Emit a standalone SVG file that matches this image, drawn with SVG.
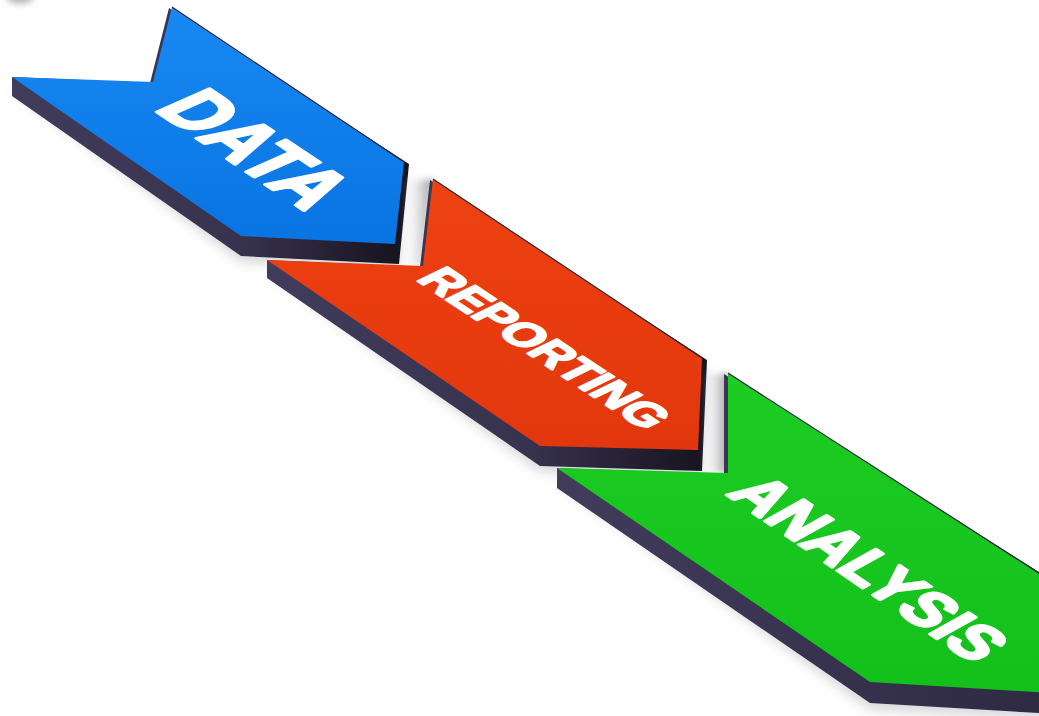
<svg xmlns="http://www.w3.org/2000/svg" width="1039" height="716" viewBox="0 0 1039 716">
<defs>
<style>
.lbl{font-family:"Liberation Sans",Arial,sans-serif;font-weight:700;fill:#ffffff;stroke:#ffffff;stroke-linejoin:round;}
.edge{fill:none;stroke:#2a2740;stroke-width:1.2;stroke-linejoin:round;}
</style>
<filter id="blur6" x="-20%" y="-20%" width="140%" height="140%"><feGaussianBlur stdDeviation="6"/></filter>
<filter id="blur3" x="-50%" y="-50%" width="200%" height="200%"><feGaussianBlur stdDeviation="3"/></filter>
<linearGradient id="gBlue" x1="0" y1="0" x2="0" y2="1"><stop offset="0" stop-color="#1989f2"/><stop offset="1" stop-color="#0874e2"/></linearGradient>
<linearGradient id="gRed" x1="0" y1="0" x2="0" y2="1"><stop offset="0" stop-color="#ee4211"/><stop offset="1" stop-color="#e2360e"/></linearGradient>
<linearGradient id="gGreen" x1="0" y1="0" x2="0" y2="1"><stop offset="0" stop-color="#1dcd23"/><stop offset="1" stop-color="#12c01a"/></linearGradient>
<linearGradient id="dBlue" gradientUnits="userSpaceOnUse" x1="12" y1="0" x2="400" y2="0"><stop offset="0" stop-color="#423c5c"/><stop offset="0.6" stop-color="#37324d"/><stop offset="1" stop-color="#17131f"/></linearGradient>
<linearGradient id="dRed" gradientUnits="userSpaceOnUse" x1="267" y1="0" x2="705" y2="0"><stop offset="0" stop-color="#423c5c"/><stop offset="0.6" stop-color="#37324d"/><stop offset="1" stop-color="#17131f"/></linearGradient>
<linearGradient id="dGreen" gradientUnits="userSpaceOnUse" x1="557" y1="0" x2="1050" y2="0"><stop offset="0" stop-color="#423c5c"/><stop offset="1" stop-color="#2e2a42"/></linearGradient>
<linearGradient id="gapShade" x1="0" y1="0" x2="1" y2="0"><stop offset="0" stop-color="#ffffff" stop-opacity="0"/><stop offset="1" stop-color="#7a7a80" stop-opacity="0.8"/></linearGradient>
</defs>
<rect x="0" y="0" width="1039" height="716" fill="#ffffff"/>
<ellipse cx="20" cy="-3" rx="14" ry="7" fill="#b8b8bc" filter="url(#blur3)"/>

<!-- soft drop shadows -->
<g opacity="0.22" fill="#505060" filter="url(#blur6)">
<polygon points="12,90 241,262 399,272 404,170 150,90"/>
<polygon points="267,272 540,472 702,478 707,368 420,275"/>
<polygon points="557,482 870,710 1055,720 1055,590 724,482"/>
</g>

<g id="node-data">
<polygon points="169,8 409,164 399,264 241,256 12,96 12,77 150,83" fill="url(#dBlue)"/>
<polygon points="172,7 404,162 395,244 241,236 12,77 153,82" fill="url(#gBlue)"/>
<polyline class="edge" points="172,7 404,162"/>
<text class="lbl" font-size="47" stroke-width="2.2" transform="matrix(2.31 1.55 -1.62 0.72 172 8) translate(36 63) scale(0.535 1)">DATA</text>
</g>

<polygon points="406,180 433,179 423,266 402,266" fill="url(#gapShade)" filter="url(#blur3)"/>

<g id="node-reporting">
<polygon points="430,180 707,360 702,471 540,466 267,278 267,260 420,267" fill="url(#dRed)"/>
<polygon points="433,179 702,358 698,450 540,446 267,260 423,266" fill="url(#gRed)"/>
<polyline class="edge" points="433,179 702,358"/>
<text class="lbl" font-size="25.7" stroke-width="1.3" transform="matrix(2.69 1.77 -1.66 0.81 433 180) translate(29.5 58.5) scale(0.56 1)">REPORTING</text>
</g>

<polygon points="704,375 728,373 728,473 702,472" fill="url(#gapShade)" filter="url(#blur3)"/>

<g id="node-analysis">
<polygon points="724,374 1055,582 1055,714 870,703 557,488 557,468 724,474" fill="url(#dGreen)"/>
<polygon points="728,373 1048,579 1052,693 870,682 557,468 728,473" fill="url(#gGreen)"/>
<polyline class="edge" points="728,373 1048,579"/>
<text class="lbl" font-size="33" stroke-width="1.7" transform="matrix(3.13 2.14 -1.71 0.95 728 373) translate(30.8 58) scale(0.485 1)">ANALYSIS</text>
</g>

<g id="connectors"/>
</svg>
